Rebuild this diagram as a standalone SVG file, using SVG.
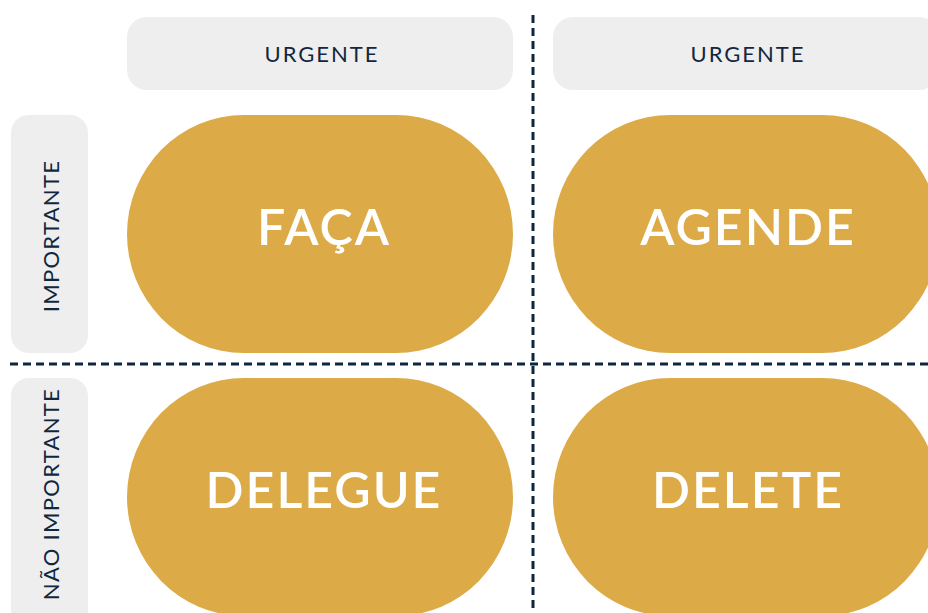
<svg xmlns="http://www.w3.org/2000/svg" width="928" height="613" viewBox="0 0 928 613">
<style>
.hdr{fill:#eeeeee}
.hl{font-family:Lato,"Open Sans","Liberation Sans",sans-serif;font-size:22px;fill:#11273f;text-anchor:middle;dominant-baseline:central}
.hh{letter-spacing:2px}
.hv{letter-spacing:1.3px}
.q{fill:#dcab47}
.ql{font-family:Lato,"Open Sans","Liberation Sans",sans-serif;font-size:50px;font-weight:600;letter-spacing:2px;fill:#ffffff;text-anchor:middle;dominant-baseline:central}
.dash{stroke:#0e2741;stroke-width:3;stroke-dasharray:8 5;fill:none}
</style>
<rect width="928" height="613" fill="#ffffff"/>
<g id="col1"><rect class="hdr" x="127" y="17" width="386" height="73" rx="20"/><text class="hl hh" x="322" y="53">URGENTE</text></g>
<g id="col2"><rect class="hdr" x="553" y="17" width="386" height="73" rx="20"/><text class="hl hh" x="748" y="53">URGENTE</text></g>
<g id="row1"><rect class="hdr" x="11" y="115" width="77" height="238" rx="18"/><text class="hl hv" transform="translate(50 236) rotate(-90)">IMPORTANTE</text></g>
<g id="row2"><rect class="hdr" x="11" y="378" width="77" height="250" rx="18"/><text class="hl hv" transform="translate(50 494) rotate(-90)">NÃO IMPORTANTE</text></g>
<g id="faca"><rect class="q" x="127" y="115" width="386" height="238" rx="117" ry="119"/><text class="ql" x="324" y="226">FAÇA</text></g>
<g id="agende"><rect class="q" x="553" y="115" width="386" height="238" rx="117" ry="119"/><text class="ql" x="748" y="226">AGENDE</text></g>
<g id="delegue"><rect class="q" x="127" y="378" width="386" height="238" rx="117" ry="119"/><text class="ql" x="324" y="489">DELEGUE</text></g>
<g id="delete"><rect class="q" x="553" y="378" width="386" height="238" rx="117" ry="119"/><text class="ql" x="748" y="489">DELETE</text></g>
<g id="connectors">
<line class="dash" x1="533" y1="15" x2="533" y2="613"/>
<line class="dash" x1="10" y1="364" x2="928" y2="364"/>
</g>
</svg>
